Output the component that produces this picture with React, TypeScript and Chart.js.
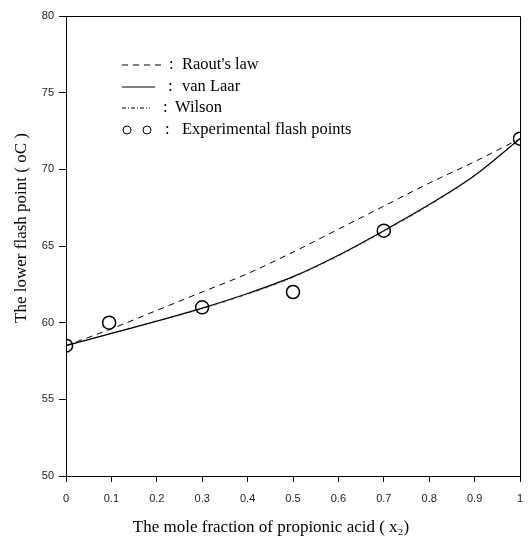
import React, { useEffect, useRef } from 'react';
import { Chart, registerables } from 'chart.js';

Chart.register(...registerables);

// ---- data ----
const modelX = [0, 0.1, 0.2, 0.3, 0.4, 0.5, 0.6, 0.7, 0.8, 0.9, 1.0];
const raoultValues = [58.5, 59.6, 60.8, 62.0, 63.2, 64.6, 66.1, 67.6, 69.1, 70.5, 72.0];
const vanLaarValues = [58.5, 59.3, 60.1, 60.95, 61.9, 63.0, 64.4, 66.0, 67.7, 69.6, 72.0];
const wilsonValues = [58.5, 59.3, 60.1, 60.9, 61.85, 62.95, 64.35, 65.95, 67.65, 69.6, 72.0];
const expX = [0, 0.095, 0.3, 0.5, 0.7, 1.0];
const expY = [58.5, 60, 61, 62, 66, 72];
const xTicks = [0, 0.1, 0.2, 0.3, 0.4, 0.5, 0.6, 0.7, 0.8, 0.9, 1];
const yTicks = [50, 55, 60, 65, 70, 75, 80];
const legendLabels = ["Raout's law", 'van Laar', 'Wilson', 'Experimental flash points'];
const xTitle = 'The mole fraction of propionic acid ( x\u2082)';
const yTitle = 'The lower flash point ( oC )';

const SERIF = '"Liberation Serif", "Times New Roman", serif';
const SANS = '"Liberation Sans", Arial, sans-serif';

const decorPlugin = {
  id: 'decor',
  afterDraw(chart: any) {
    const { ctx, chartArea } = chart;
    const { left, top, right, bottom } = chartArea;
    ctx.save();
    // frame (top & right)
    ctx.strokeStyle = '#000';
    ctx.lineWidth = 1;
    ctx.beginPath();
    ctx.moveTo(left, top + 0.5);
    ctx.lineTo(right + 0.5, top + 0.5);
    ctx.lineTo(right + 0.5, bottom);
    ctx.stroke();

    // legend
    const sx = left + 56;
    const rows = [top + 49, top + 71, top + 92, top + 114];
    ctx.fillStyle = '#000';
    ctx.font = '16.5px ' + SERIF;
    ctx.textBaseline = 'middle';
    ctx.textAlign = 'left';
    ctx.lineWidth = 1;
    // Raoult
    ctx.setLineDash([6, 5]);
    ctx.beginPath();
    ctx.moveTo(sx, rows[0]);
    ctx.lineTo(sx + 40, rows[0]);
    ctx.stroke();
    ctx.setLineDash([]);
    ctx.fillText(':', sx + 47, rows[0]);
    ctx.fillText(legendLabels[0], sx + 60, rows[0]);
    // van Laar
    ctx.beginPath();
    ctx.moveTo(sx, rows[1]);
    ctx.lineTo(sx + 33, rows[1]);
    ctx.stroke();
    ctx.fillText(':', sx + 46, rows[1]);
    ctx.fillText(legendLabels[1], sx + 60, rows[1]);
    // Wilson
    ctx.setLineDash([4, 2, 1, 2]);
    ctx.beginPath();
    ctx.moveTo(sx, rows[2]);
    ctx.lineTo(sx + 28, rows[2]);
    ctx.stroke();
    ctx.setLineDash([]);
    ctx.fillText(':', sx + 41, rows[2]);
    ctx.fillText(legendLabels[2], sx + 53, rows[2]);
    // Experimental
    [sx + 5, sx + 25].forEach((cx) => {
      ctx.beginPath();
      ctx.arc(cx, rows[3], 4, 0, Math.PI * 2);
      ctx.stroke();
    });
    ctx.fillText(':', sx + 43, rows[3]);
    ctx.fillText(legendLabels[3], sx + 60, rows[3]);

    // axis titles
    ctx.font = '17px ' + SERIF;
    ctx.textAlign = 'center';
    ctx.textBaseline = 'middle';
    ctx.fillText(xTitle, 271, 528);
    ctx.translate(22, 228);
    ctx.rotate(-Math.PI / 2);
    ctx.fillText(yTitle, 0, 0);
    ctx.restore();
  },
};

export default function App() {
  const ref = useRef<HTMLCanvasElement>(null);
  useEffect(() => {
    const canvas = ref.current!;
    const line = (vals: number[]) => modelX.map((x, i) => ({ x, y: vals[i] }));
    const chart = new Chart(canvas, {
      type: 'scatter',
      data: {
        datasets: [
          {
            label: legendLabels[3],
            data: expX.map((x, i) => ({ x, y: expY[i] })),
            showLine: false,
            pointRadius: 6.5,
            pointBorderWidth: 1.5,
            pointBorderColor: '#000',
            pointBackgroundColor: 'rgba(0,0,0,0)',
            order: 0,
          },
          {
            label: legendLabels[0],
            data: line(raoultValues),
            showLine: true,
            borderColor: '#000',
            borderWidth: 1,
            borderDash: [6, 5],
            pointRadius: 0,
            cubicInterpolationMode: 'monotone',
            order: 1,
          },
          {
            label: legendLabels[1],
            data: line(vanLaarValues),
            showLine: true,
            borderColor: '#000',
            borderWidth: 1.2,
            pointRadius: 0,
            cubicInterpolationMode: 'monotone',
            order: 2,
          },
          {
            label: legendLabels[2],
            data: line(wilsonValues),
            showLine: true,
            borderColor: 'rgba(0,0,0,0.5)',
            borderWidth: 1,
            borderDash: [4, 2, 1, 2],
            pointRadius: 0,
            cubicInterpolationMode: 'monotone',
            order: 3,
          },
        ],
      } as any,
      options: {
        animation: false,
        responsive: false,
        maintainAspectRatio: false,
        layout: { padding: { top: 16, right: 6, left: 0, bottom: 0 } },
        plugins: { legend: { display: false }, tooltip: { enabled: false } },
        scales: {
          x: {
            type: 'linear',
            min: 0,
            max: 1,
            afterFit: (s: any) => {
              s.height = 67;
              s.paddingLeft = 0;
              s.paddingRight = 0;
            },
            afterBuildTicks: (s: any) => {
              s.ticks = xTicks.map((v) => ({ value: v }));
            },
            ticks: {
              font: { family: SANS, size: 11 },
              color: '#222',
              padding: 10,
              maxRotation: 0,
              callback: (v: any) => String(v),
            },
            grid: { drawOnChartArea: false, drawTicks: true, tickLength: 6, color: '#000' },
            border: { display: true, color: '#000', width: 1 },
          },
          y: {
            type: 'linear',
            min: 50,
            max: 80,
            afterFit: (s: any) => {
              s.width = 66;
              s.paddingTop = 0;
              s.paddingBottom = 0;
            },
            afterBuildTicks: (s: any) => {
              s.ticks = yTicks.map((v) => ({ value: v }));
            },
            ticks: {
              font: { family: SANS, size: 11 },
              color: '#222',
              padding: 5,
              callback: (v: any) => String(v),
            },
            grid: { drawOnChartArea: false, drawTicks: true, tickLength: 7, color: '#000' },
            border: { display: true, color: '#000', width: 1 },
          },
        },
      } as any,
      plugins: [decorPlugin],
    });
    return () => chart.destroy();
  }, []);
  return (
    <div style={{ position: 'absolute', left: 0, top: 0, width: 528, height: 543, background: '#fff' }}>
      <canvas ref={ref} width={528} height={543} style={{ width: 528, height: 543 }} />
    </div>
  );
}
